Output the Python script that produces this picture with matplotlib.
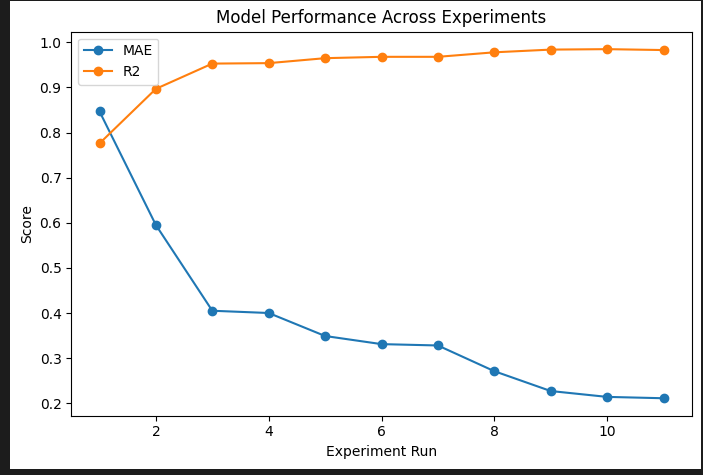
import matplotlib
matplotlib.use("Agg")
import matplotlib.pyplot as plt
from matplotlib.patches import Rectangle

runs = [1, 2, 3, 4, 5, 6, 7, 8, 9, 10, 11]
mae = [0.847, 0.595, 0.405, 0.400, 0.349, 0.331, 0.328, 0.271, 0.227, 0.214, 0.211]
r2 = [0.776, 0.897, 0.953, 0.954, 0.965, 0.968, 0.968, 0.978, 0.984, 0.985, 0.983]

fig = plt.figure(figsize=(7.03, 4.75), dpi=100, facecolor="#1c1c1c")
bg = Rectangle((10 / 703, 6 / 475), 691 / 703, 468 / 475,
               transform=fig.transFigure, facecolor="white",
               edgecolor="none", zorder=-10)
fig.add_artist(bg)
ax = fig.add_axes([71.3 / 703, (475 - 415.7) / 475, 620.4 / 703, 384 / 475])
ax.set_zorder(1)
ax.plot(runs, mae, marker="o", label="MAE")
ax.plot(runs, r2, marker="o", label="R2")
ax.set_title("Model Performance Across Experiments")
ax.set_xlabel("Experiment Run")
ax.set_ylabel("Score")
ax.legend(loc="upper left")
fig.savefig("out.png", dpi=100, facecolor=fig.get_facecolor())
